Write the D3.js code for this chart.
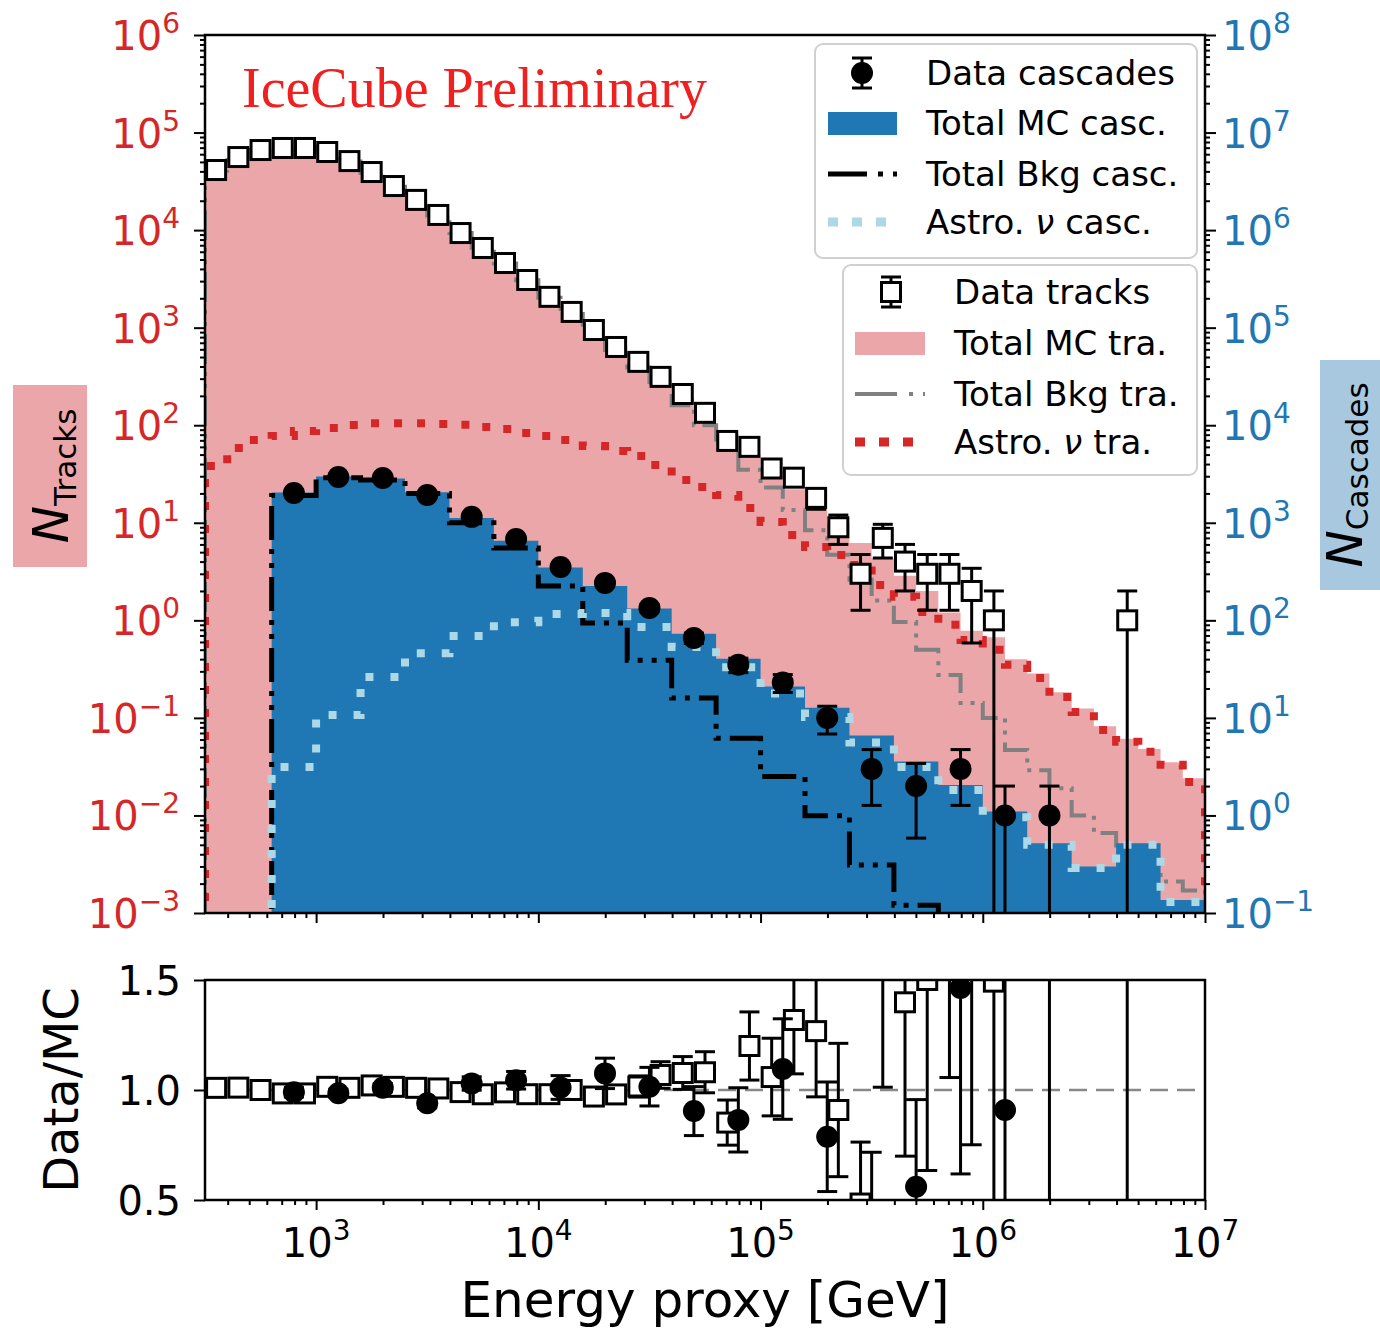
<!DOCTYPE html>
<html>
<head>
<meta charset="utf-8">
<script src="https://cdn.jsdelivr.net/npm/d3@7"></script>
<style>
body { margin: 0; background: #fff; }
text { font-family: "DejaVu Sans", sans-serif; }
</style>
</head>
<body>
<script>
// bin edges, log10(E / GeV)
var trackEdges = [2.5, 2.6, 2.7, 2.8, 2.9, 3.0, 3.1, 3.2, 3.3, 3.4, 3.5, 3.6, 3.7, 3.8, 3.9, 4.0,
	4.1, 4.2, 4.3, 4.4, 4.5, 4.6, 4.7, 4.8, 4.9, 5.0, 5.1, 5.2, 5.3, 5.4, 5.5, 5.6, 5.7, 5.8, 5.9,
	6.0, 6.1, 6.2, 6.3, 6.4, 6.5, 6.6, 6.7, 6.8, 6.9, 7.0];
var cascEdges = [2.8, 3.0, 3.2, 3.4, 3.6, 3.8, 4.0, 4.2, 4.4, 4.6, 4.8, 5.0, 5.2, 5.4, 5.6, 5.8,
	6.0, 6.2, 6.4, 6.6, 6.8, 7.0];

var tracksData = [41300, 56100, 66200, 69500, 69500, 63200, 51000, 39400, 28300, 20400, 14300,
	9330, 6560, 4600, 3080, 2070, 1450, 946, 634, 446, 313, 209, 134, 69, 60, 36, 29, 18, 9, 3,
	7, 4, 3, 3, 2, 1, 0, 0, 0, 0, 0, 1, 0, 0, 0];
var tracksMC = [40900, 55500, 66200, 70600, 70600, 62300, 50500, 38600, 27900, 20200, 14200,
	9420, 6690, 4650, 3140, 2110, 1450, 975, 647, 439, 293, 194, 124, 81, 50, 34, 22, 14.2, 9.9,
	6.2, 4.3, 2.86, 2.0, 1.2, 0.78, 0.67, 0.40, 0.285, 0.183, 0.125, 0.082, 0.061, 0.048, 0.035, 0.024];
var tracksBkg = [40860, 55440, 66130, 70520, 70520, 62210, 50400, 38500, 27800, 20100, 14100,
	9320, 6590, 4560, 3057, 2032, 1379, 914, 592, 391, 254, 160, 100, 60, 35, 23, 13.5, 8.4, 4.7,
	2.6, 1.6, 0.96, 0.50, 0.275, 0.142, 0.100, 0.047, 0.029, 0.019, 0.010, 0.0066, 0.0044,
	0.0031, 0.0021, 0.0017];
var tracksAstro = [38.2, 58.5, 70.6, 77.6, 87.3, 93.8, 100.7, 105, 105, 105, 103, 101, 96, 91.6,
	83.2, 77.6, 70.6, 61.2, 54.5, 48.4, 39.2, 27.5, 23.3, 19.3, 14.2, 10.2, 7.5, 5.65, 4.68, 3.70,
	2.30, 1.74, 1.22, 0.90, 0.63, 0.50, 0.35, 0.256, 0.164, 0.115, 0.075, 0.057, 0.045, 0.033, 0.022];

var cascData = [2020, 2940, 2880, 1930, 1150, 683, 352, 242, 134, 66, 35, 23, 10, 3, 2, 3, 1, 1, 0, 0, 0];
var cascMC = [2040, 2985, 2850, 2053, 1117, 654, 348, 225, 132, 73, 40.5, 21, 12.7, 6.6, 3.57,
	2.05, 1.1, 0.52, 0.30, 0.52, 0.136];
var cascBkg = [1900, 2900, 2750, 1990, 1000, 550, 225, 94, 39, 16, 6.2, 2.5, 0.99, 0.31, 0.12,
	0.04, 0.02, 0.01, 0.005, 0.003, 0.002];
var cascAstro = [3.14, 10.7, 26.3, 46, 69, 95.5, 116, 119, 85.5, 53.3, 33, 17.8, 10.2, 5.6, 3.14,
	1.82, 0.96, 0.50, 0.29, 0.50, 0.13];

var leftExps = [-3, -2, -1, 0, 1, 2, 3, 4, 5, 6];
var rightExps = [-1, 0, 1, 2, 3, 4, 5, 6, 7, 8];
var xExps = [3, 4, 5, 6, 7];
var ratioTicks = [0.5, 1.0, 1.5];

var pink = "#eba6a9", blue = "#1f77b4", lblue = "#add8e6", red = "#d62728", grey = "#808080";

var svg = d3.select("body")
	.append("svg")
	.attr("width", 1380)
	.attr("height", 1328);

var x = d3.scaleLog().domain([Math.pow(10, 2.5), 1e7]).range([205, 1205]);
var yT = d3.scaleLog().domain([1e-3, 1e6]).range([913, 35]);
var yC = d3.scaleLog().domain([1e-1, 1e8]).range([913, 35]);
var yR = d3.scaleLinear().domain([0.5, 1.5]).range([1200, 980]);

function xe(e) { return x(Math.pow(10, e)); }
function centers(edges) {
	return edges.slice(1).map(function (e, i) { return (edges[i] + e) / 2; });
}

var defs = svg.append("defs");
defs.append("clipPath").attr("id", "clip-main")
	.append("rect").attr("x", 205).attr("y", 35).attr("width", 1000).attr("height", 878);
defs.append("clipPath").attr("id", "clip-ratio")
	.append("rect").attr("x", 205).attr("y", 980).attr("width", 1000).attr("height", 220);

function stepPath(edges, vals, yScale, floor) {
	var pts = [[xe(edges[0]), yScale(floor)]];
	vals.forEach(function (v, i) {
		var vv = v > 0 ? v : floor;
		pts.push([xe(edges[i]), yScale(vv)]);
		pts.push([xe(edges[i + 1]), yScale(vv)]);
	});
	pts.push([xe(edges[edges.length - 1]), yScale(floor)]);
	return d3.line()(pts);
}

var main = svg.append("g").attr("clip-path", "url(#clip-main)");

main.append("path")
	.attr("d", stepPath(trackEdges, tracksMC, yT, 1e-5) + "Z")
	.attr("fill", pink);
main.append("path")
	.attr("d", stepPath(trackEdges, tracksBkg, yT, 1e-5))
	.attr("fill", "none").attr("stroke", grey).attr("stroke-width", 4)
	.attr("stroke-dasharray", "30,8,4,8,4,8");
main.append("path")
	.attr("d", stepPath(trackEdges, tracksAstro, yT, 1e-5))
	.attr("fill", "none").attr("stroke", red).attr("stroke-width", 8)
	.attr("stroke-dasharray", "8,15");

main.append("path")
	.attr("d", stepPath(cascEdges, cascMC, yC, 1e-3) + "Z")
	.attr("fill", blue);
main.append("path")
	.attr("d", stepPath(cascEdges, cascBkg, yC, 1e-3))
	.attr("fill", "none").attr("stroke", "black").attr("stroke-width", 5)
	.attr("stroke-dasharray", "34,9,5,9,5,9");
main.append("path")
	.attr("d", stepPath(cascEdges, cascAstro, yC, 1e-3))
	.attr("fill", "none").attr("stroke", lblue).attr("stroke-width", 8)
	.attr("stroke-dasharray", "8,17");

function points(edges, vals, mc, ratio) {
	var c = centers(edges), out = [];
	vals.forEach(function (n, i) {
		if (n <= 0) return;
		var s = Math.sqrt(n), k = ratio ? 1 / mc[i] : 1;
		out.push({x: xe(c[i]), v: n * k, hi: (n + s) * k, lo: (n - s) * k});
	});
	return out;
}

function errorBars(g, pts, yScale, floor, lw) {
	var bars = g.append("g").attr("stroke", "black").attr("stroke-width", lw);
	pts.forEach(function (p) {
		var lo = p.lo > floor ? p.lo : floor;
		bars.append("line").attr("x1", p.x).attr("x2", p.x)
			.attr("y1", yScale(p.hi)).attr("y2", yScale(lo));
		bars.append("line").attr("x1", p.x - 10).attr("x2", p.x + 10)
			.attr("y1", yScale(p.hi)).attr("y2", yScale(p.hi));
		if (p.lo > floor)
			bars.append("line").attr("x1", p.x - 10).attr("x2", p.x + 10)
				.attr("y1", yScale(p.lo)).attr("y2", yScale(p.lo));
	});
}

function squares(g, pts, yScale) {
	g.selectAll(null).data(pts).enter().append("rect")
		.attr("x", function (p) { return p.x - 9.5; })
		.attr("y", function (p) { return yScale(p.v) - 9.5; })
		.attr("width", 19).attr("height", 19)
		.attr("fill", "white").attr("stroke", "black").attr("stroke-width", 3);
}

function circles(g, pts, yScale) {
	g.selectAll(null).data(pts).enter().append("circle")
		.attr("cx", function (p) { return p.x; })
		.attr("cy", function (p) { return yScale(p.v); })
		.attr("r", 11).attr("fill", "black");
}

var trkPts = points(trackEdges, tracksData, tracksMC, false);
var casPts = points(cascEdges, cascData, cascMC, false);
errorBars(main, trkPts, yT, 1e-5, 3);
squares(main, trkPts, yT);
errorBars(main, casPts, yC, 1e-3, 3);
circles(main, casPts, yC);

// ratio panel
var ratio = svg.append("g").attr("clip-path", "url(#clip-ratio)");
ratio.append("line")
	.attr("x1", 205).attr("x2", 1205).attr("y1", yR(1)).attr("y2", yR(1))
	.attr("stroke", "#888").attr("stroke-width", 2.5).attr("stroke-dasharray", "18,9");
var trkR = points(trackEdges, tracksData, tracksMC, true);
var casR = points(cascEdges, cascData, cascMC, true);
errorBars(ratio, trkR, yR, -10, 3);
squares(ratio, trkR, yR);
errorBars(ratio, casR, yR, -10, 3);
circles(ratio, casR, yR);

// frames
svg.append("rect").attr("x", 205).attr("y", 35).attr("width", 1000).attr("height", 878)
	.attr("fill", "none").attr("stroke", "black").attr("stroke-width", 2.5);
svg.append("rect").attr("x", 205).attr("y", 980).attr("width", 1000).attr("height", 220)
	.attr("fill", "none").attr("stroke", "black").attr("stroke-width", 2.5);

// ticks
function minors(lo, hi) {
	var out = [];
	for (var d = lo; d < hi; d++)
		for (var m = 2; m < 10; m++) out.push(m * Math.pow(10, d));
	return out;
}
function tickAxis(axis, tx, ty, values, size) {
	var g = svg.append("g").attr("transform", "translate(" + tx + "," + ty + ")")
		.call(axis.tickValues(values).tickSize(size).tickFormat(""));
	g.select(".domain").remove();
	g.selectAll("line").attr("stroke", "black").attr("stroke-width", 2);
}
var xMajor = xExps.map(function (e) { return Math.pow(10, e); });
var xMinor = minors(2, 7).filter(function (v) { return v > Math.pow(10, 2.5); });
tickAxis(d3.axisBottom(x), 0, 913, xMajor, 10);
tickAxis(d3.axisBottom(x), 0, 913, xMinor, 5);
tickAxis(d3.axisBottom(x), 0, 1200, xMajor, 10);
tickAxis(d3.axisBottom(x), 0, 1200, xMinor, 5);
tickAxis(d3.axisLeft(yT), 205, 0, leftExps.map(function (e) { return Math.pow(10, e); }), 11);
tickAxis(d3.axisLeft(yT), 205, 0, minors(-3, 6), 5);
tickAxis(d3.axisRight(yC), 1205, 0, rightExps.map(function (e) { return Math.pow(10, e); }), 11);
tickAxis(d3.axisRight(yC), 1205, 0, minors(-1, 8), 5);
tickAxis(d3.axisLeft(yR), 205, 0, ratioTicks, 11);

function powLabel(px, py, exp, anchor, color) {
	var t = svg.append("text").attr("x", px).attr("y", py)
		.attr("text-anchor", anchor).attr("fill", color).style("font-size", "40px");
	t.append("tspan").text("10");
	t.append("tspan").attr("dy", -17).style("font-size", "28px")
		.text(exp < 0 ? "\u2212" + (-exp) : String(exp));
}
leftExps.forEach(function (e) { powLabel(180, yT(Math.pow(10, e)) + 15, e, "end", red); });
rightExps.forEach(function (e) { powLabel(1222, yC(Math.pow(10, e)) + 15, e, "start", blue); });
xExps.forEach(function (e) { powLabel(x(Math.pow(10, e)), 1257, e, "middle", "black"); });
ratioTicks.forEach(function (r) {
	svg.append("text").attr("x", 181).attr("y", yR(r) + 15).attr("text-anchor", "end")
		.style("font-size", "40px").text(r.toFixed(1));
});

// axis titles
svg.append("text").attr("x", 705).attr("y", 1317).attr("text-anchor", "middle")
	.style("font-size", "50px").text("Energy proxy [GeV]");
svg.append("text").attr("transform", "translate(78,1090) rotate(-90)")
	.attr("text-anchor", "middle").style("font-size", "48px").text("Data/MC");

svg.append("rect").attr("x", 13).attr("y", 385).attr("width", 74).attr("height", 182).attr("fill", pink);
var nt = svg.append("text").attr("transform", "translate(68,476) rotate(-90)")
	.attr("text-anchor", "middle");
nt.append("tspan").style("font-size", "50px").style("font-style", "italic").text("N");
nt.append("tspan").attr("dy", 8).style("font-size", "31px").text("Tracks");

svg.append("rect").attr("x", 1320).attr("y", 360).attr("width", 62).attr("height", 230).attr("fill", "#a8c8e0");
var nc = svg.append("text").attr("transform", "translate(1362,475) rotate(-90)")
	.attr("text-anchor", "middle");
nc.append("tspan").style("font-size", "50px").style("font-style", "italic").text("N");
nc.append("tspan").attr("dy", 6).style("font-size", "31px").text("Cascades");

svg.append("text").attr("x", 242).attr("y", 107)
	.attr("fill", "#ee2020")
	.style("font-family", "'Liberation Serif', serif").style("font-size", "56px")
	.text("IceCube Preliminary");

// legends
function legendBox(x0, y0, w, h) {
	svg.append("rect").attr("x", x0).attr("y", y0).attr("width", w).attr("height", h)
		.attr("rx", 8).attr("fill", "white").attr("fill-opacity", 0.8)
		.attr("stroke", "#d0d0d0").attr("stroke-width", 2);
}
function legendText(px, py, pre, post) {
	var t = svg.append("text").attr("x", px).attr("y", py).style("font-size", "34px");
	if (post === undefined) { t.text(pre); return; }
	t.append("tspan").text(pre);
	t.append("tspan").style("font-style", "italic").text("\u03bd");
	t.append("tspan").text(post);
}
function legendBar(cx, cy) {
	var g = svg.append("g").attr("stroke", "black").attr("stroke-width", 3);
	g.append("line").attr("x1", cx).attr("x2", cx).attr("y1", cy - 15).attr("y2", cy + 15);
	g.append("line").attr("x1", cx - 10).attr("x2", cx + 10).attr("y1", cy - 15).attr("y2", cy - 15);
	g.append("line").attr("x1", cx - 10).attr("x2", cx + 10).attr("y1", cy + 15).attr("y2", cy + 15);
}

legendBox(815, 44, 382, 214);
legendBar(862, 73);
svg.append("circle").attr("cx", 862).attr("cy", 73).attr("r", 11).attr("fill", "black");
svg.append("rect").attr("x", 828).attr("y", 112).attr("width", 69).attr("height", 23).attr("fill", blue);
svg.append("line").attr("x1", 828).attr("x2", 897).attr("y1", 174).attr("y2", 174)
	.attr("stroke", "black").attr("stroke-width", 5).attr("stroke-dasharray", "39,11,5,10,5,10");
svg.append("line").attr("x1", 828).attr("x2", 888).attr("y1", 222).attr("y2", 222)
	.attr("stroke", lblue).attr("stroke-width", 9).attr("stroke-dasharray", "10,14");
legendText(926, 85, "Data cascades");
legendText(926, 135, "Total MC casc.");
legendText(926, 186, "Total Bkg casc.");
legendText(926, 234, "Astro. ", " casc.");

legendBox(843, 265, 354, 210);
legendBar(891, 292);
svg.append("rect").attr("x", 881.5).attr("y", 282.5).attr("width", 19).attr("height", 19)
	.attr("fill", "white").attr("stroke", "black").attr("stroke-width", 3);
svg.append("rect").attr("x", 855).attr("y", 332).attr("width", 70).attr("height", 23).attr("fill", pink);
svg.append("line").attr("x1", 855).attr("x2", 925).attr("y1", 394).attr("y2", 394)
	.attr("stroke", grey).attr("stroke-width", 4).attr("stroke-dasharray", "42,12,4,10,4,10");
svg.append("line").attr("x1", 855).attr("x2", 917).attr("y1", 442).attr("y2", 442)
	.attr("stroke", red).attr("stroke-width", 9).attr("stroke-dasharray", "10,14");
legendText(954, 304, "Data tracks");
legendText(954, 355, "Total MC tra.");
legendText(954, 406, "Total Bkg tra.");
legendText(954, 454, "Astro. ", " tra.");
</script>
</body>
</html>
